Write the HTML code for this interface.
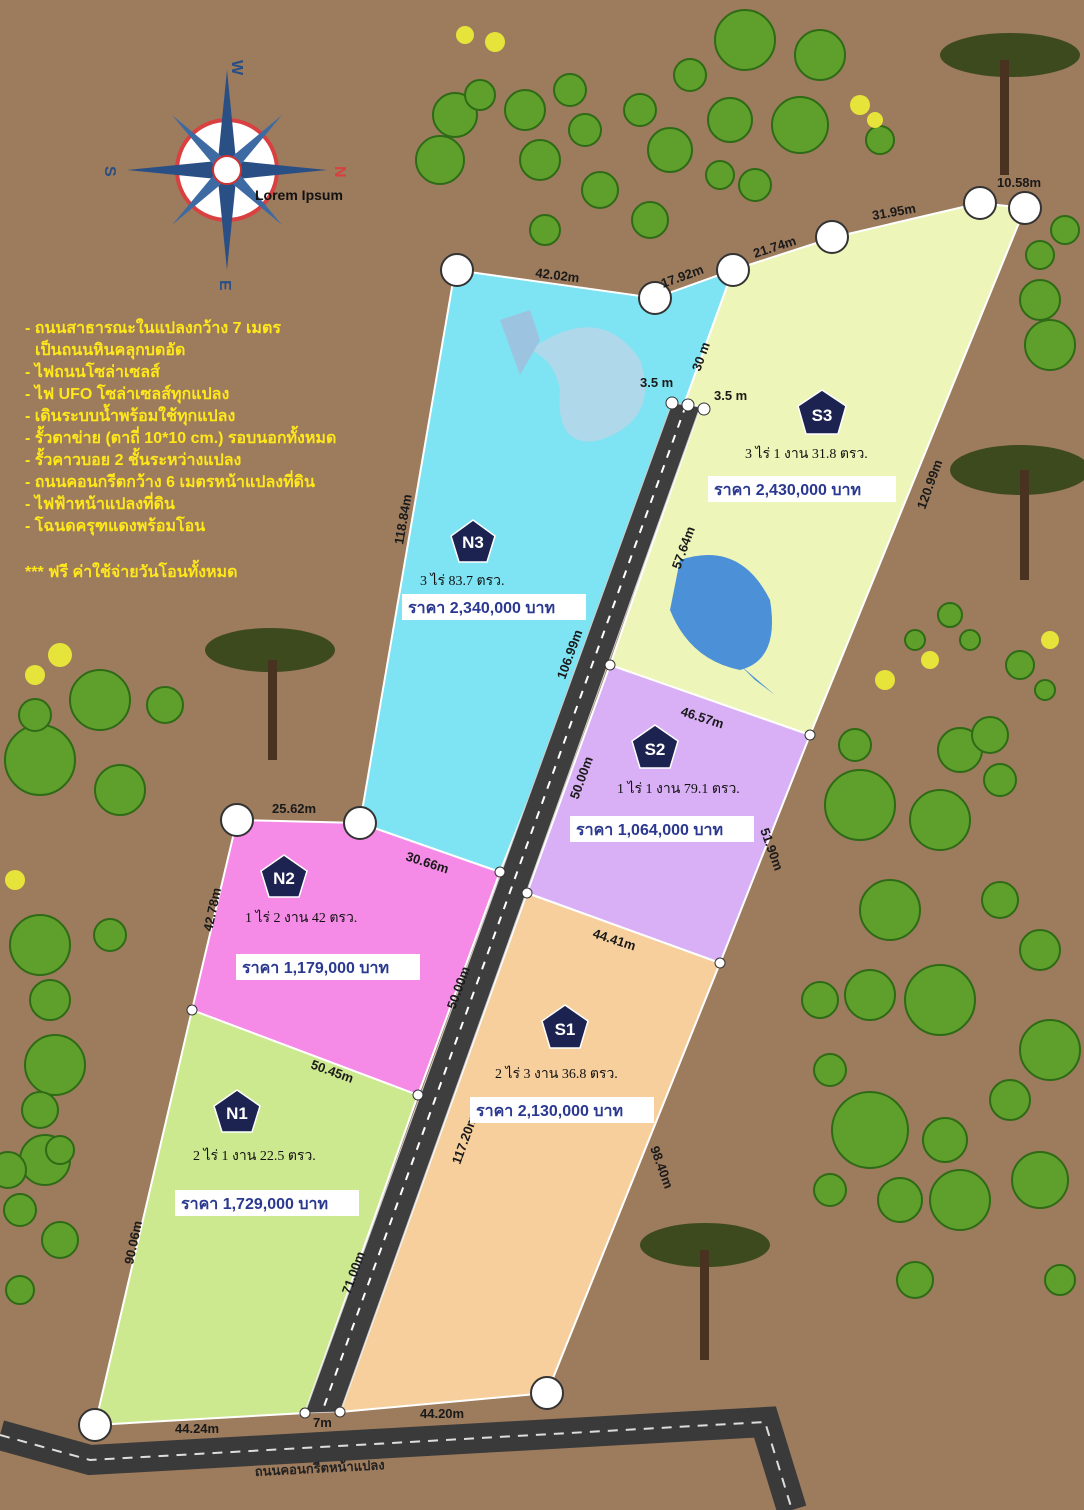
<!DOCTYPE html>
<html><head><meta charset="utf-8"><style>
html,body{margin:0;padding:0;background:#9d7b5d;}
svg{display:block}
.t{font-family:"Liberation Sans","Noto Sans CJK SC",sans-serif;}
.info{font-family:"Liberation Sans","Noto Sans CJK SC",sans-serif;font-weight:bold;fill:#ffe81a;font-size:16px}
.dim{font-family:"Liberation Sans",sans-serif;font-weight:bold;font-size:13px;fill:#1a1a1a}
.area{font-family:"Liberation Serif","Noto Serif CJK SC",serif;font-size:14px;fill:#111}
.price{font-family:"Liberation Sans","Noto Sans CJK SC",sans-serif;font-weight:bold;font-size:16px;fill:#2a3890}
</style></head><body>
<svg width="1084" height="1510" viewBox="0 0 1084 1510" xmlns="http://www.w3.org/2000/svg">
<rect width="1084" height="1510" fill="#9d7b5d"/>
<!-- bottom road -->
<path d="M0,1435 L90,1460 L765,1422 L792,1510" fill="none" stroke="#3a3a3a" stroke-width="30"/>
<path d="M0,1435 L90,1460 L765,1422 L792,1510" fill="none" stroke="#ddd" stroke-width="2" stroke-dasharray="10,8"/>
<text x="255" y="1476" class="t" font-size="13" font-weight="bold" fill="#222" transform="rotate(-3 255 1476)">ถนนคอนกรีตหน้าแปลง</text>
<!-- trees -->
<g fill="#5fa02c" stroke="#2f6a16" stroke-width="2">
<circle cx="455" cy="115" r="22"/><circle cx="440" cy="160" r="24"/><circle cx="480" cy="95" r="15"/><circle cx="525" cy="110" r="20"/><circle cx="540" cy="160" r="20"/><circle cx="545" cy="230" r="15"/><circle cx="585" cy="130" r="16"/><circle cx="600" cy="190" r="18"/><circle cx="570" cy="90" r="16"/>
<circle cx="745" cy="40" r="30"/><circle cx="820" cy="55" r="25"/><circle cx="800" cy="125" r="28"/><circle cx="730" cy="120" r="22"/><circle cx="670" cy="150" r="22"/><circle cx="650" cy="220" r="18"/><circle cx="755" cy="185" r="16"/><circle cx="880" cy="140" r="14"/><circle cx="690" cy="75" r="16"/><circle cx="640" cy="110" r="16"/><circle cx="720" cy="175" r="14"/>
<circle cx="1040" cy="300" r="20"/><circle cx="1050" cy="345" r="25"/><circle cx="1065" cy="230" r="14"/><circle cx="1040" cy="255" r="14"/>
<circle cx="40" cy="760" r="35"/><circle cx="100" cy="700" r="30"/><circle cx="165" cy="705" r="18"/><circle cx="120" cy="790" r="25"/><circle cx="35" cy="715" r="16"/>
<circle cx="40" cy="945" r="30"/><circle cx="50" cy="1000" r="20"/><circle cx="55" cy="1065" r="30"/><circle cx="110" cy="935" r="16"/><circle cx="40" cy="1110" r="18"/><circle cx="45" cy="1160" r="25"/><circle cx="60" cy="1150" r="14"/><circle cx="20" cy="1210" r="16"/><circle cx="20" cy="1290" r="14"/><circle cx="8" cy="1170" r="18"/><circle cx="60" cy="1240" r="18"/>
<circle cx="860" cy="805" r="35"/><circle cx="940" cy="820" r="30"/><circle cx="960" cy="750" r="22"/><circle cx="1000" cy="780" r="16"/><circle cx="855" cy="745" r="16"/><circle cx="990" cy="735" r="18"/>
<circle cx="890" cy="910" r="30"/><circle cx="940" cy="1000" r="35"/><circle cx="1040" cy="950" r="20"/><circle cx="1050" cy="1050" r="30"/><circle cx="870" cy="995" r="25"/><circle cx="820" cy="1000" r="18"/><circle cx="1000" cy="900" r="18"/>
<circle cx="870" cy="1130" r="38"/><circle cx="945" cy="1140" r="22"/><circle cx="1010" cy="1100" r="20"/><circle cx="1040" cy="1180" r="28"/><circle cx="960" cy="1200" r="30"/><circle cx="900" cy="1200" r="22"/><circle cx="830" cy="1070" r="16"/><circle cx="1060" cy="1280" r="15"/><circle cx="915" cy="1280" r="18"/><circle cx="830" cy="1190" r="16"/>
<circle cx="950" cy="615" r="12"/><circle cx="915" cy="640" r="10"/><circle cx="970" cy="640" r="10"/><circle cx="1020" cy="665" r="14"/><circle cx="1045" cy="690" r="10"/>
</g>
<g fill="#e6e43a"><circle cx="860" cy="105" r="10"/><circle cx="875" cy="120" r="8"/><circle cx="60" cy="655" r="12"/><circle cx="35" cy="675" r="10"/><circle cx="15" cy="880" r="10"/><circle cx="885" cy="680" r="10"/><circle cx="930" cy="660" r="9"/><circle cx="495" cy="42" r="10"/><circle cx="465" cy="35" r="9"/><circle cx="1050" cy="640" r="9"/></g>
<!-- acacia trees -->
<g fill="#3d4a1e">
<ellipse cx="1010" cy="55" rx="70" ry="22"/><rect x="1000" y="60" width="9" height="115" fill="#4a3220"/>
<ellipse cx="1020" cy="470" rx="70" ry="25"/><rect x="1020" y="470" width="9" height="110" fill="#4a3220"/>
<ellipse cx="270" cy="650" rx="65" ry="22"/><rect x="268" y="660" width="9" height="100" fill="#4a3220"/>
<ellipse cx="705" cy="1245" rx="65" ry="22"/><rect x="700" y="1250" width="9" height="110" fill="#4a3220"/>
</g>
<!-- plots -->
<g stroke="#fff" stroke-width="2">
<polygon points="95,1425 305,1413 418,1095 192,1010" fill="#cde98f"/>
<polygon points="192,1010 237,820 360,823 500,872 418,1095" fill="#f58be6"/>
<polygon points="455,270 655,298 733,270 685,402 500,872 360,823" fill="#7ee3f2"/>
<polygon points="733,270 835,237 980,203 1025,208 810,735 610,665 700,407 685,402" fill="#eef5b8"/>
<polygon points="610,665 810,735 720,963 527,893" fill="#d9b0f5"/>
<polygon points="527,893 720,963 547,1393 340,1412" fill="#f6cf9d"/>
</g>
<!-- road -->
<polygon points="672,403 700,407 340,1412 305,1413" fill="#3e3e3e" stroke="#ccc" stroke-width="1"/>
<line x1="686" y1="405" x2="322" y2="1412" stroke="#fff" stroke-width="2" stroke-dasharray="8,8"/>
<!-- dolphin / whale -->
<path d="M530,350 Q600,300 640,360 Q660,420 600,440 Q555,450 560,390 Q555,360 530,350Z" fill="#b9d6ea" opacity="0.85"/>
<path d="M500,320 L530,310 L540,340 L520,375 Z" fill="#9cc4e0"/>
<path d="M680,560 Q740,540 770,600 Q780,660 740,670 Q690,660 670,610 Z" fill="#4c90d8"/>
<path d="M740,665 L775,695 L755,680 Z" fill="#4c90d8"/>
<!-- corner circles -->
<g fill="#fff" stroke="#333" stroke-width="2">
<circle cx="457" cy="270" r="16"/><circle cx="655" cy="298" r="16"/><circle cx="733" cy="270" r="16"/><circle cx="832" cy="237" r="16"/><circle cx="980" cy="203" r="16"/><circle cx="1025" cy="208" r="16"/>
<circle cx="237" cy="820" r="16"/><circle cx="360" cy="823" r="16"/><circle cx="95" cy="1425" r="16"/><circle cx="547" cy="1393" r="16"/>
</g>
<g fill="#fff" stroke="#333" stroke-width="1">
<circle cx="672" cy="403" r="6"/><circle cx="688" cy="405" r="6"/><circle cx="704" cy="409" r="6"/><circle cx="610" cy="665" r="5"/><circle cx="810" cy="735" r="5"/><circle cx="500" cy="872" r="5"/><circle cx="527" cy="893" r="5"/><circle cx="720" cy="963" r="5"/><circle cx="192" cy="1010" r="5"/><circle cx="418" cy="1095" r="5"/><circle cx="305" cy="1413" r="5"/><circle cx="340" cy="1412" r="5"/>
</g>
<!-- dims -->
<text class="dim" x="535" y="277" transform="rotate(7 535 277)">42.02m</text>
<text class="dim" x="663" y="288" transform="rotate(-20 663 288)">17.92m</text>
<text class="dim" x="755" y="258" transform="rotate(-18 755 258)">21.74m</text>
<text class="dim" x="873" y="220" transform="rotate(-10 873 220)">31.95m</text>
<text class="dim" x="997" y="187" font-size="9" font-family="Liberation Sans" fill="#111">10.58m</text>
<text class="dim" x="700" y="372" transform="rotate(-70 700 372)">30 m</text>
<text class="dim" x="640" y="387">3.5 m</text>
<text class="dim" x="714" y="400">3.5 m</text>
<text class="dim" x="925" y="510" transform="rotate(-70 925 510)">120.99m</text>
<text class="dim" x="403" y="545" transform="rotate(-80 403 545)">118.84m</text>
<text class="dim" x="680" y="570" transform="rotate(-70 680 570)">57.64m</text>
<text class="dim" x="565" y="680" transform="rotate(-70 565 680)">106.99m</text>
<text class="dim" x="680" y="715" transform="rotate(18 680 715)">46.57m</text>
<text class="dim" x="578" y="800" transform="rotate(-70 578 800)">50.00m</text>
<text class="dim" x="760" y="830" transform="rotate(70 760 830)">51.90m</text>
<text class="dim" x="272" y="813">25.62m</text>
<text class="dim" x="405" y="860" transform="rotate(18 405 860)">30.66m</text>
<text class="dim" x="212" y="932" transform="rotate(-78 212 932)">42.78m</text>
<text class="dim" x="592" y="937" transform="rotate(18 592 937)">44.41m</text>
<text class="dim" x="455" y="1010" transform="rotate(-70 455 1010)">50.00m</text>
<text class="dim" x="310" y="1068" transform="rotate(20 310 1068)">50.45m</text>
<text class="dim" x="460" y="1165" transform="rotate(-70 460 1165)">117.20m</text>
<text class="dim" x="650" y="1148" transform="rotate(70 650 1148)">98.40m</text>
<text class="dim" x="133" y="1265" transform="rotate(-78 133 1265)">90.06m</text>
<text class="dim" x="350" y="1295" transform="rotate(-70 350 1295)">71.00m</text>
<text class="dim" x="175" y="1433">44.24m</text>
<text class="dim" x="313" y="1427">7m</text>
<text class="dim" x="420" y="1418">44.20m</text>
<!-- badges -->
<g fill="#1c2350" stroke="#fff" stroke-width="1.5">
<polygon points="473,520 495,536 487,562 459,562 451,536"/>
<polygon points="822,390 846,406 838,434 806,434 798,406"/>
<polygon points="655,725 678,741 670,768 640,768 632,741"/>
<polygon points="284,855 307,871 299,897 269,897 261,871"/>
<polygon points="565,1005 588,1021 580,1048 550,1048 542,1021"/>
<polygon points="237,1090 260,1106 252,1132 222,1132 214,1106"/>
</g>
<g class="t" font-weight="bold" font-size="17" fill="#fff" text-anchor="middle">
<text x="473" y="548">N3</text><text x="822" y="421">S3</text><text x="655" y="755">S2</text><text x="284" y="884">N2</text><text x="565" y="1035">S1</text><text x="237" y="1119">N1</text>
</g>
<!-- areas/prices -->
<text class="area" x="420" y="585">3 ไร่ 83.7 ตรว.</text>
<rect x="402" y="594" width="184" height="26" fill="#fff"/><text class="price" x="408" y="613">ราคา 2,340,000 บาท</text>
<text class="area" x="745" y="458">3 ไร่ 1 งาน 31.8 ตรว.</text>
<rect x="708" y="476" width="188" height="26" fill="#fff"/><text class="price" x="714" y="495">ราคา 2,430,000 บาท</text>
<text class="area" x="617" y="793">1 ไร่ 1 งาน 79.1 ตรว.</text>
<rect x="570" y="816" width="184" height="26" fill="#fff"/><text class="price" x="576" y="835">ราคา 1,064,000 บาท</text>
<text class="area" x="245" y="922">1 ไร่ 2 งาน 42 ตรว.</text>
<rect x="236" y="954" width="184" height="26" fill="#fff"/><text class="price" x="242" y="973">ราคา 1,179,000 บาท</text>
<text class="area" x="495" y="1078">2 ไร่ 3 งาน 36.8 ตรว.</text>
<rect x="470" y="1097" width="184" height="26" fill="#fff"/><text class="price" x="476" y="1116">ราคา 2,130,000 บาท</text>
<text class="area" x="193" y="1160">2 ไร่ 1 งาน 22.5 ตรว.</text>
<rect x="175" y="1190" width="184" height="26" fill="#fff"/><text class="price" x="181" y="1209">ราคา 1,729,000 บาท</text>
<!-- compass -->
<circle cx="227" cy="170" r="50" fill="#fff" stroke="#d94040" stroke-width="4"/>
<g fill="#2a4f85">
<polygon points="227,70 237,170 227,270 217,170"/>
<polygon points="127,170 227,160 327,170 227,180"/>
<polygon points="172,115 232,165 282,225 222,175" fill="#3d6aa3"/>
<polygon points="282,115 232,175 172,225 222,165" fill="#3d6aa3"/>
</g>
<circle cx="227" cy="170" r="14" fill="#fff" stroke="#c33" stroke-width="2"/>
<text x="232" y="60" class="t" font-weight="bold" font-size="16" fill="#2a4f85" transform="rotate(90 232 60)">W</text>
<text x="105" y="166" class="t" font-weight="bold" font-size="16" fill="#2a4f85" transform="rotate(90 105 166)">S</text>
<text x="335" y="166" class="t" font-weight="bold" font-size="16" fill="#d94040" transform="rotate(90 335 166)">N</text>
<text x="220" y="280" class="t" font-weight="bold" font-size="16" fill="#2a4f85" transform="rotate(90 220 280)">E</text>
<text x="255" y="200" class="t" font-weight="bold" font-size="14" fill="#111">Lorem Ipsum</text>
<!-- info -->
<g class="info">
<text x="25" y="333">- ถนนสาธารณะในแปลงกว้าง 7 เมตร</text>
<text x="35" y="355">เป็นถนนหินคลุกบดอัด</text>
<text x="25" y="377">- ไฟถนนโซล่าเซลส์</text>
<text x="25" y="399">- ไฟ UFO โซล่าเซลส์ทุกแปลง</text>
<text x="25" y="421">- เดินระบบน้ำพร้อมใช้ทุกแปลง</text>
<text x="25" y="443">- รั้วตาข่าย (ตาถี่ 10*10 cm.) รอบนอกทั้งหมด</text>
<text x="25" y="465">- รั้วคาวบอย 2 ชั้นระหว่างแปลง</text>
<text x="25" y="487">- ถนนคอนกรีตกว้าง 6 เมตรหน้าแปลงที่ดิน</text>
<text x="25" y="509">- ไฟฟ้าหน้าแปลงที่ดิน</text>
<text x="25" y="531">- โฉนดครุฑแดงพร้อมโอน</text>
<text x="25" y="577">*** ฟรี ค่าใช้จ่ายวันโอนทั้งหมด</text>
</g>
</svg>
</body></html>
